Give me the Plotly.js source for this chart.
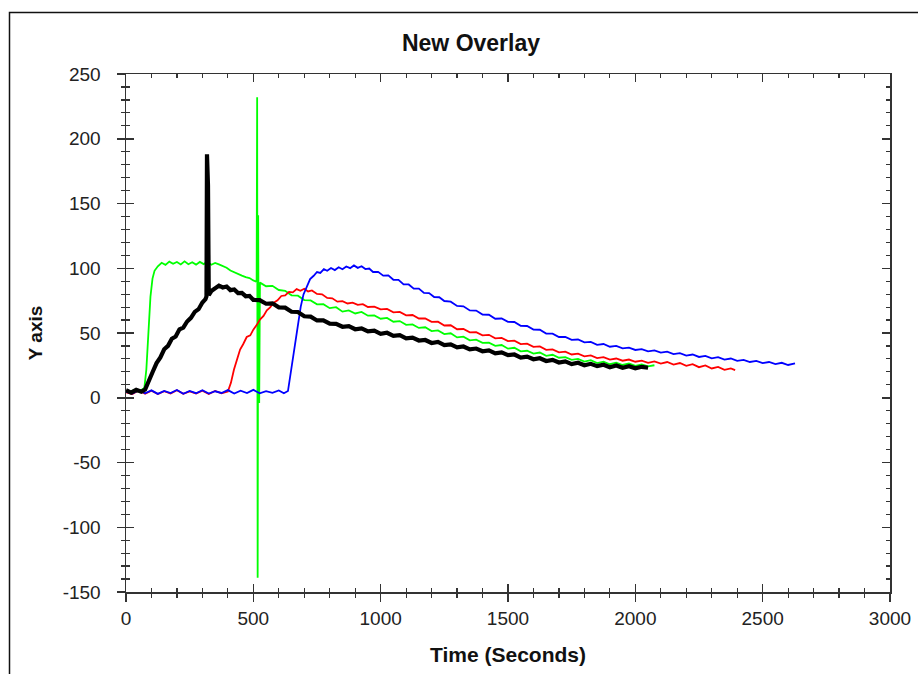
<!DOCTYPE html>
<html>
<head>
<meta charset="utf-8">
<script src="https://cdn.plot.ly/plotly-3.0.1.min.js"></script>
<style>
html,body{margin:0;padding:0;background:#fff;}
#chart{width:918px;height:674px;}
</style>
</head>
<body>
<div id="chart"></div>
<script>
// ---- Data ----
const greenTime = [0,15,30,45,60,72,80,88,96,104,112,125,140,155,170,185,200,215,230,245,260,275,290,305,320,335,350,365,380,395,410,425,440,455,470,485,500,509,513,515,517,519,521,523,526,
550,575,600,625,650,675,700,725,750,775,800,825,850,875,900,925,950,975,1000,1025,1050,1075,1100,1125,1150,1175,1200,1225,1250,1275,1300,1325,1350,1375,1400,1425,1450,1475,1500,1525,1550,1575,1600,1625,1650,1675,1700,1725,1750,1775,1800,1825,1850,1875,1900,1925,1950,1975,2000,2025,2050,2075];
const greenValue = [5.2,4.1,6.0,4.8,5.9,7.5,22,48,78,92,98,101.5,104.2,102.6,105.1,103.4,104.8,102.9,105.3,103.1,104.6,102.8,104.9,103.2,105.0,102.7,104.1,103.0,101.6,100.4,98.2,97.1,95.6,94.3,93.1,92.4,90.6,89.8,91,232,-139,141,19,-4,88.9,
86.1,86.4,83.2,82.6,79.1,78.8,75.4,75.2,72.1,72.3,69.2,69.9,66.5,67.4,65.1,66.3,63.4,63.5,61.0,61.6,58.7,59.2,56.3,56.6,53.9,54.4,51.5,52.0,49.2,49.8,46.6,47.2,44.3,44.9,42.4,42.6,40.1,40.7,37.9,38.6,35.8,36.3,34.1,34.9,32.4,33.2,30.9,31.4,29.3,30.0,27.9,29.0,26.8,27.9,25.9,27.1,25.3,26.4,24.6,25.8,24.2,25.1];

const blackTime = [0,20,40,60,75,90,105,120,135,150,165,180,195,210,225,240,255,270,285,300,312,316,318,322,325,335,350,365,380,395,410,425,440,455,470,485,500,525,550,575,600,625,650,675,700,725,750,775,800,825,850,875,900,925,950,975,1000,1025,1050,1075,1100,1125,1150,1175,1200,1225,1250,1275,1300,1325,1350,1375,1400,1425,1450,1475,1500,1525,1550,1575,1600,1625,1650,1675,1700,1725,1750,1775,1800,1825,1850,1875,1900,1925,1950,1975,2000,2025,2050];
const blackValue = [5.8,3.9,6.1,4.6,6.3,14.2,20.1,26.8,31.2,37.4,40.1,45.6,47.3,52.8,54.2,58.9,61.7,66.3,68.4,73.6,76.1,78.3,188,164,79.2,82.4,84.1,86.6,85.2,85.9,83.1,83.6,80.8,80.9,78.4,78.7,75.6,75.4,72.6,72.9,69.8,69.6,66.4,66.2,62.9,62.6,59.7,59.8,57.2,57.0,54.8,55.3,52.9,53.6,51.2,51.8,49.4,50.2,47.8,48.3,45.9,46.4,44.2,44.6,42.3,43.1,40.6,41.2,38.9,39.6,37.4,38.0,35.9,36.6,34.3,35.0,32.9,33.4,31.0,31.8,29.7,30.5,28.4,29.3,27.2,28.1,26.0,27.0,25.1,26.2,24.4,25.5,23.6,24.9,23.1,24.3,22.7,23.9,23.2];

const redTime = [0,25,50,75,100,125,150,175,200,225,250,275,300,325,350,375,400,412,424,436,448,460,474,488,500,513,526,540,553,566,580,595,610,625,640,655,670,685,700,715,730,750,770,790,810,830,850,870,890,910,930,950,975,1000,1025,1050,1075,1100,1125,1150,1175,1200,1225,1250,1275,1300,1325,1350,1375,1400,1425,1450,1475,1500,1525,1550,1575,1600,1625,1650,1675,1700,1725,1750,1775,1800,1825,1850,1875,1900,1925,1950,1975,2000,2025,2050,2075,2100,2125,2150,2175,2200,2225,2250,2275,2300,2325,2350,2375,2392];
const redValue = [4.2,2.9,5.6,3.1,5.4,2.8,5.1,3.3,5.8,3.0,4.9,3.2,5.5,2.9,5.2,3.4,4.8,11.5,21.8,28.6,37.2,41.3,46.9,48.2,52.6,56.1,60.4,63.2,67.5,69.8,73.4,75.2,78.6,79.1,81.7,81.4,83.9,82.6,84.2,82.1,82.9,80.2,79.9,77.1,76.8,74.2,74.6,72.8,73.5,71.7,72.3,70.1,70.4,68.2,68.6,66.0,66.3,63.6,63.9,61.2,61.3,58.6,58.7,55.8,56.0,52.9,53.1,50.5,50.7,48.2,48.6,45.9,46.2,43.8,44.1,41.4,41.8,39.3,39.6,37.0,37.4,35.1,35.6,33.4,34.0,32.0,32.7,30.6,31.4,29.5,30.3,28.6,29.5,27.8,28.7,27.0,28.1,26.4,27.6,25.6,26.8,24.7,25.9,23.6,24.9,22.6,23.8,21.5,22.7,21.4];

const blueTime = [0,25,50,75,100,125,150,175,200,225,250,275,300,325,350,375,400,425,450,475,500,525,550,575,600,620,636,646,656,666,676,686,697,710,723,737,750,763,777,790,805,820,835,850,865,880,895,910,925,940,955,970,990,1010,1030,1050,1070,1090,1110,1130,1150,1170,1190,1210,1230,1250,1275,1300,1325,1350,1375,1400,1425,1450,1475,1500,1525,1550,1575,1600,1625,1650,1675,1700,1725,1750,1775,1800,1825,1850,1875,1900,1925,1950,1975,2000,2025,2050,2075,2100,2125,2150,2175,2200,2225,2250,2275,2300,2325,2350,2375,2400,2425,2450,2475,2500,2525,2550,2575,2600,2627];
const blueValue = [4.6,3.2,5.9,3.4,5.7,3.0,5.3,3.6,6.0,3.1,5.2,3.5,5.8,3.3,5.0,3.7,5.9,3.2,5.4,3.6,6.1,3.4,5.1,3.8,5.6,3.5,5.2,18.4,32.6,46.1,60.3,70.2,79.8,86.4,91.6,94.2,97.1,96.4,99.3,98.1,100.2,98.6,100.8,99.2,101.4,100.1,102.2,100.3,101.6,99.4,99.8,97.1,97.2,94.3,94.5,91.1,91.0,87.6,87.5,84.2,84.3,81.0,80.8,77.8,77.6,74.7,74.2,70.9,70.6,67.4,67.3,64.2,64.1,61.0,61.2,58.6,58.5,55.6,55.4,52.6,52.5,49.6,49.5,46.9,47.0,44.7,45.0,42.8,43.2,40.9,41.5,39.4,40.0,38.1,38.7,36.9,37.6,35.8,36.5,34.8,35.6,33.7,34.4,32.6,33.4,31.5,32.3,30.4,31.4,29.4,30.3,28.5,29.3,27.6,28.4,26.8,27.6,26.0,27.0,25.3,26.6];

const xTickValues = [0,500,1000,1500,2000,2500,3000];
const xTickLabels = ['0','500','1000','1500','2000','2500','3000'];
const yTickValues = [-150,-100,-50,0,50,100,150,200,250];
const yTickLabels = ['-150','-100','-50','0','50','100','150','200','250'];

// ---- Styling ----
const FONT = 'Liberation Sans, Arial, sans-serif';
const AX = '#333333';

const traces = [
  {x: greenTime, y: greenValue, type: 'scatter', mode: 'lines', line: {color: '#00ff00', width: 1.8}, hoverinfo: 'skip'},
  {x: redTime, y: redValue, type: 'scatter', mode: 'lines', line: {color: '#ff0000', width: 1.8}, hoverinfo: 'skip'},
  {x: blueTime, y: blueValue, type: 'scatter', mode: 'lines', line: {color: '#0000ff', width: 1.8}, hoverinfo: 'skip'},
  {x: blackTime, y: blackValue, type: 'scatter', mode: 'lines', line: {color: '#000000', width: 4.2}, hoverinfo: 'skip'},
  {x: [], y: [], xaxis: 'x2', yaxis: 'y2', type: 'scatter', mode: 'lines', hoverinfo: 'skip'}
];

const L = 126, R = 28, T = 74, B = 82;
const PW = 918 - L - R, PH = 674 - T - B;

const layout = {
  width: 918, height: 674,
  margin: {l: L, r: R, t: T, b: B, pad: 0},
  paper_bgcolor: '#ffffff', plot_bgcolor: '#ffffff',
  showlegend: false, hovermode: false,
  font: {family: FONT, color: '#222222', size: 19},
  title: {
    text: '<b>New Overlay</b>',
    font: {family: FONT, size: 23, color: '#111111'},
    xref: 'container', x: 471 / 918, xanchor: 'center',
    yref: 'container', y: 1 - 43 / 674, yanchor: 'middle'
  },
  xaxis: {
    range: [0, 3000], tickvals: xTickValues, ticktext: xTickLabels, ticks: 'outside', ticklen: 8, tickwidth: 1.5, tickcolor: AX,
    minor: {dtick: 100, tick0: 0, ticks: 'outside', ticklen: 4, tickwidth: 1.2, tickcolor: AX, showgrid: false},
    showline: true, linecolor: AX, linewidth: 1.5, showgrid: false, zeroline: false,
    tickfont: {family: FONT, size: 19, color: '#222222'}, ticklabelstandoff: 1,
    title: {text: '<b>Time (Seconds)</b>', font: {family: FONT, size: 21, color: '#111111'}, standoff: 19}
  },
  yaxis: {
    range: [-150, 250], tickvals: yTickValues, ticktext: yTickLabels, ticks: 'outside', ticklen: 8, tickwidth: 1.5, tickcolor: AX,
    minor: {dtick: 10, tick0: 0, ticks: 'outside', ticklen: 4, tickwidth: 1.2, tickcolor: AX, showgrid: false},
    showline: true, linecolor: AX, linewidth: 1.5, showgrid: false, zeroline: false,
    tickfont: {family: FONT, size: 19, color: '#222222'}, ticklabelstandoff: 12,
    title: {text: '<b>Y axis</b>', font: {family: FONT, size: 19, color: '#111111'}, standoff: 15}
  },
  xaxis2: {
    overlaying: 'x', anchor: 'y2', side: 'bottom',
    range: [0, 3000], tickvals: xTickValues, ticks: 'inside', ticklen: 8, tickwidth: 1.5, tickcolor: AX,
    minor: {dtick: 100, tick0: 0, ticks: 'inside', ticklen: 4, tickwidth: 1.2, tickcolor: AX, showgrid: false},
    showline: true, linecolor: AX, linewidth: 1.5, mirror: 'ticks', showgrid: false, zeroline: false,
    showticklabels: false
  },
  yaxis2: {
    overlaying: 'y', anchor: 'x2', side: 'left',
    range: [-150, 250], tickvals: yTickValues, ticks: 'inside', ticklen: 8, tickwidth: 1.5, tickcolor: AX,
    minor: {dtick: 10, tick0: 0, ticks: 'inside', ticklen: 4, tickwidth: 1.2, tickcolor: AX, showgrid: false},
    showline: true, linecolor: AX, linewidth: 1.5, mirror: 'ticks', showgrid: false, zeroline: false,
    showticklabels: false
  },
  shapes: [{
    type: 'rect', xref: 'paper', yref: 'paper', layer: 'below',
    x0: (9.5 - L) / PW, x1: (940 - L) / PW,
    y0: (674 - B - 700) / PH, y1: (674 - B - 12.5) / PH,
    line: {color: '#111111', width: 1.5}, fillcolor: 'rgba(0,0,0,0)'
  }]
};

Plotly.newPlot('chart', traces, layout, {staticPlot: true, displayModeBar: false});
</script>
</body>
</html>
